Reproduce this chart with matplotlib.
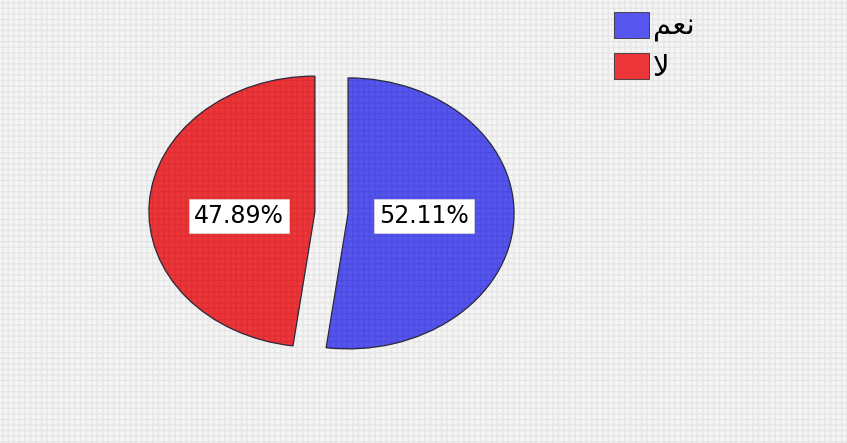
import matplotlib
matplotlib.use("Agg")
import matplotlib.pyplot as plt
from matplotlib.patches import Wedge, Rectangle, Patch

# ---- data ----
categories = ["نعم", "لا"]
values = [52.11, 47.89]
colors = ["#5656ee", "#ec3639"]
hatch_colors = ["#4c4ce2", "#de2e32"]

# visual (shaped, left-to-right) forms of the Arabic labels for display
display_forms = {"نعم": "\ufee2\ufecc\ufee7", "لا": "\ufefb"}

W, H = 847, 443
fig = plt.figure(figsize=(W / 100, H / 100), dpi=100)
fig.patch.set_facecolor("#f5f5f5")
fig.patches.append(Rectangle((0, 0), 1, 1, transform=fig.transFigure,
                             facecolor="none", edgecolor="#e6e6e6", lw=0,
                             hatch="+++", zorder=-1))

# pie geometry in pixels
cx, cy = 331.5, H - 212.5
rx, ry = 166, 135.5
lim = 1.2
ax = fig.add_axes([(cx - lim * rx) / W, (cy - lim * ry) / H,
                   2 * lim * rx / W, 2 * lim * ry / H])
ax.set_facecolor("none")

wedges, texts, autotexts = ax.pie(
    values, colors=colors, startangle=90, counterclock=False,
    explode=[0.1, 0.1], autopct="%1.2f%%", pctdistance=0.46,
    wedgeprops=dict(linewidth=0),
    textprops=dict(fontsize=17, color="black", family="DejaVu Sans"))
ax.set_aspect("auto")
ax.set_xlim(-lim, lim)
ax.set_ylim(-lim, lim)
ax.axis("off")

for w, hc in zip(wedges, hatch_colors):
    hw = Wedge(w.center, w.r, w.theta1, w.theta2, facecolor="none",
               edgecolor=hc, lw=0, hatch="+++", zorder=1.1)
    ax.add_patch(hw)
    ow = Wedge(w.center, w.r, w.theta1, w.theta2, facecolor="none",
               edgecolor="#2a2a3a", lw=0.9, zorder=1.2)
    ax.add_patch(ow)

# keep both percentage boxes on the same baseline as in the reference
ybase = autotexts[0].get_position()[1]
for t in autotexts:
    x, _ = t.get_position()
    t.set_position((x, ybase + 0.01))
    t.set_zorder(5)
    t.set_bbox(dict(facecolor="white", edgecolor="#d8d8d8", linewidth=0.5,
                    boxstyle="square,pad=0.22"))

handles = [Patch(facecolor=c, edgecolor="#333333", linewidth=0.6) for c in colors]
fig.legend(handles, [display_forms[c] for c in categories],
           loc="upper left", bbox_to_anchor=(614 / W, 1 - 12 / H),
           bbox_transform=fig.transFigure, frameon=False,
           prop=dict(family="DejaVu Sans", size=21),
           handlelength=1.2, handleheight=0.97, handletextpad=0.14,
           labelspacing=0.38, borderpad=0, borderaxespad=0)

fig.savefig("out.png", dpi=100, facecolor=fig.get_facecolor())
